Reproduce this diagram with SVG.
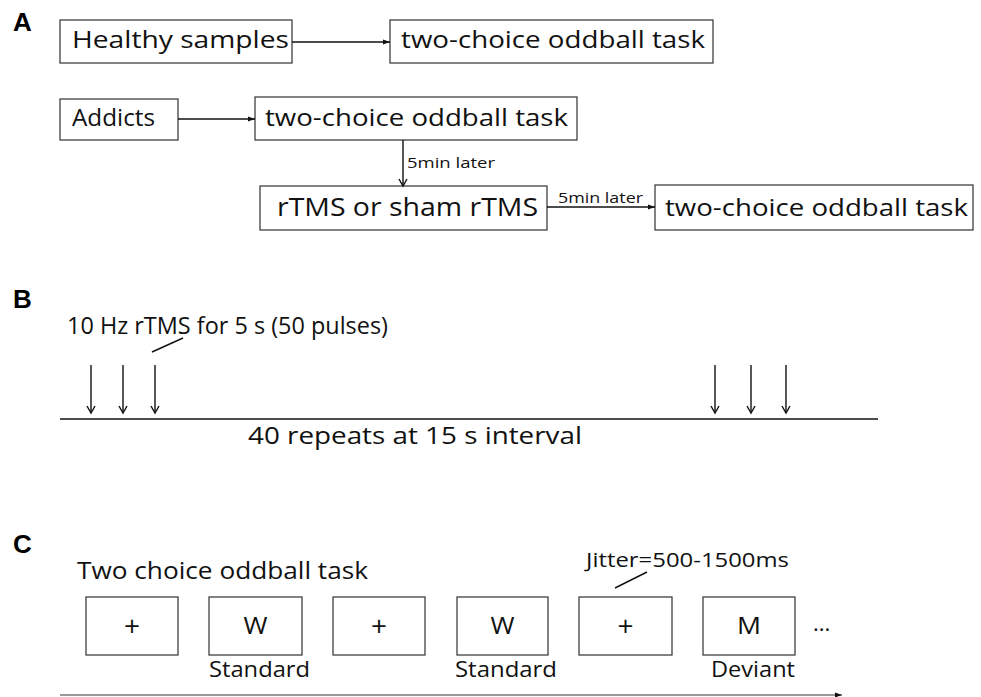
<svg xmlns="http://www.w3.org/2000/svg" width="981" height="697" viewBox="0 0 981 697">
<style>
.box{fill:#fff;stroke:#404040;stroke-width:1.3}
.t{font-family:"Open Sans","DejaVu Sans",sans-serif;fill:#111}
.lbl{font-family:"Liberation Sans",Arial,sans-serif;font-weight:bold;font-size:26px;fill:#000}
.ln{stroke:#111;stroke-width:1.4;fill:none}
.g{stroke:#777;stroke-width:1.3;fill:none}
.big{font-size:28px}
</style>
<defs>
<marker id="fa" markerUnits="userSpaceOnUse" markerWidth="8" markerHeight="6" refX="7" refY="3" orient="auto"><path d="M0,0.5 L7,3 L0,5.5 z" fill="#111"/></marker>
<marker id="va" markerUnits="userSpaceOnUse" markerWidth="10" markerHeight="12" refX="8" refY="5" orient="auto"><path d="M1,1 L8,5 L1,9" fill="none" stroke="#111" stroke-width="1.4"/></marker>
</defs>
<rect width="981" height="697" fill="#fff"/>

<text class="lbl" x="13" y="31">A</text>
<text class="lbl" x="13" y="308">B</text>
<text class="lbl" x="13" y="553">C</text>

<g id="n1"><rect class="box" x="60" y="20" width="232" height="43"/><text class="t" x="72" y="48" font-size="23" textLength="217" lengthAdjust="spacingAndGlyphs">Healthy samples</text></g>
<g id="n2"><rect class="box" x="390" y="20" width="323" height="43"/><text class="t" x="401" y="48" font-size="23" textLength="304" lengthAdjust="spacingAndGlyphs">two-choice oddball task</text></g>
<g id="n3"><rect class="box" x="60" y="99" width="118" height="41"/><text class="t" x="72" y="126" font-size="23" textLength="83" lengthAdjust="spacingAndGlyphs">Addicts</text></g>
<g id="n4"><rect class="box" x="255" y="97" width="322" height="43"/><text class="t" x="265" y="126" font-size="23" textLength="303" lengthAdjust="spacingAndGlyphs">two-choice oddball task</text></g>
<g id="n5"><rect class="box" x="260" y="186" width="287" height="44"/><text class="t" x="277" y="216" font-size="25" textLength="261" lengthAdjust="spacingAndGlyphs">rTMS or sham rTMS</text></g>
<g id="n6"><rect class="box" x="655" y="185" width="318" height="45"/><text class="t" x="665" y="216" font-size="24" textLength="303" lengthAdjust="spacingAndGlyphs">two-choice oddball task</text></g>

<g id="connectors">
<line class="ln" x1="292" y1="42" x2="390" y2="42" marker-end="url(#fa)"/>
<line class="ln" x1="178" y1="119" x2="255" y2="119" marker-end="url(#fa)"/>
<line class="ln" x1="403" y1="140" x2="403" y2="186" marker-end="url(#va)"/>
<line class="ln" x1="547" y1="207" x2="655" y2="207" marker-end="url(#fa)"/>
</g>
<text class="t" x="407" y="168" font-size="14" textLength="88" lengthAdjust="spacingAndGlyphs">5min later</text>
<text class="t" x="558" y="203" font-size="14" textLength="85" lengthAdjust="spacingAndGlyphs">5min later</text>

<g id="panelB">
<text class="t" x="67" y="334" font-size="23" textLength="321" lengthAdjust="spacingAndGlyphs">10 Hz rTMS for 5 s (50 pulses)</text>
<line class="ln" x1="152" y1="352" x2="183" y2="338" stroke-width="1"/>
<line class="ln" x1="91" y1="365" x2="91" y2="413" marker-end="url(#va)"/>
<line class="ln" x1="123" y1="365" x2="123" y2="413" marker-end="url(#va)"/>
<line class="ln" x1="155" y1="365" x2="155" y2="413" marker-end="url(#va)"/>
<line class="ln" x1="715" y1="365" x2="715" y2="413" marker-end="url(#va)"/>
<line class="ln" x1="751" y1="365" x2="751" y2="413" marker-end="url(#va)"/>
<line class="ln" x1="786" y1="365" x2="786" y2="413" marker-end="url(#va)"/>
<line class="ln" x1="60" y1="419" x2="878" y2="419"/>
<text class="t" x="248" y="444" font-size="23" textLength="334" lengthAdjust="spacingAndGlyphs">40 repeats at 15 s interval</text>
</g>

<g id="panelC">
<text class="t" x="77" y="579" font-size="23" textLength="291" lengthAdjust="spacingAndGlyphs">Two choice oddball task</text>
<text class="t" x="586" y="567" font-size="20" textLength="203" lengthAdjust="spacingAndGlyphs">Jitter=500-1500ms</text>
<line class="ln" x1="615" y1="588" x2="647" y2="572" stroke-width="1"/>
<g id="c1"><rect class="box" x="86" y="597" width="92" height="58"/><text class="t big" x="132" y="636" text-anchor="middle">+</text></g>
<g id="c2"><rect class="box" x="209" y="597" width="93" height="58"/><text class="t" x="255.5" y="634" font-size="24" text-anchor="middle" textLength="24" lengthAdjust="spacingAndGlyphs">W</text></g>
<g id="c3"><rect class="box" x="333" y="597" width="92" height="58"/><text class="t big" x="379" y="636" text-anchor="middle">+</text></g>
<g id="c4"><rect class="box" x="457" y="597" width="91" height="58"/><text class="t" x="502.5" y="634" font-size="24" text-anchor="middle" textLength="24" lengthAdjust="spacingAndGlyphs">W</text></g>
<g id="c5"><rect class="box" x="579" y="597" width="93" height="58"/><text class="t big" x="625.5" y="636" text-anchor="middle">+</text></g>
<g id="c6"><rect class="box" x="703" y="597" width="92" height="58"/><text class="t" x="749" y="634" font-size="24" text-anchor="middle" textLength="24" lengthAdjust="spacingAndGlyphs">M</text></g>
<text class="t" x="813" y="631" font-size="22">...</text>
<text class="t" x="209" y="677" font-size="21" textLength="101" lengthAdjust="spacingAndGlyphs">Standard</text>
<text class="t" x="455" y="677" font-size="21" textLength="102" lengthAdjust="spacingAndGlyphs">Standard</text>
<text class="t" x="711" y="677" font-size="21" textLength="84" lengthAdjust="spacingAndGlyphs">Deviant</text>
<line class="g" x1="60" y1="695" x2="842" y2="695" marker-end="url(#fa)"/>
</g>
</svg>
